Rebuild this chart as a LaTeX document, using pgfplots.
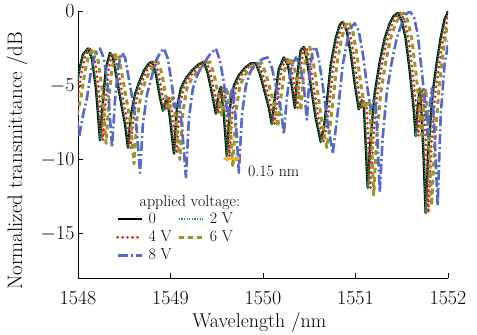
\RequirePackage{fix-cm}
\documentclass[border=0pt]{standalone}
\usepackage{fontspec}
\usepackage{pgfplots}
\usepackage{pgfplotstable}
\pgfplotsset{compat=1.18}
\usetikzlibrary{arrows.meta}
\definecolor{cgreen}{RGB}{40,150,60}
\definecolor{cred}{RGB}{225,30,35}
\definecolor{colive}{RGB}{150,150,45}
\definecolor{cblue}{RGB}{85,105,205}
\definecolor{corange}{RGB}{240,175,40}
\pgfplotstableread{
x0 x2 x4 x6 x8 y0 y6 y8
1547.816 1547.822 1547.846 1547.881 1547.946 -5.0 -5.0 -5.0
1547.849 1547.855 1547.879 1547.914 1547.979 -6.5 -6.5 -6.5
1547.881 1547.887 1547.911 1547.946 1548.011 -8.7 -8.7 -8.5
1547.924 1547.930 1547.954 1547.989 1548.054 -7.0 -7.0 -7.0
1547.968 1547.974 1547.998 1548.033 1548.098 -5.8 -5.8 -5.8
1548.011 1548.017 1548.041 1548.076 1548.141 -4.0 -4.0 -4.0
1548.054 1548.060 1548.084 1548.119 1548.184 -2.9 -2.9 -2.9
1548.108 1548.114 1548.138 1548.173 1548.238 -2.5 -2.5 -2.5
1548.151 1548.157 1548.181 1548.216 1548.281 -3.2 -3.2 -3.2
1548.194 1548.200 1548.224 1548.259 1548.324 -5.2 -5.2 -5.2
1548.238 1548.244 1548.268 1548.303 1548.368 -8.7 -8.9 -9.2
1548.270 1548.276 1548.300 1548.335 1548.400 -6.0 -6.0 -6.0
1548.302 1548.308 1548.332 1548.367 1548.432 -3.8 -3.8 -3.8
1548.346 1548.352 1548.376 1548.411 1548.476 -2.8 -2.8 -2.8
1548.378 1548.384 1548.408 1548.443 1548.508 -3.1 -3.1 -3.1
1548.421 1548.427 1548.451 1548.486 1548.551 -4.6 -4.6 -4.6
1548.475 1548.481 1548.505 1548.540 1548.605 -6.5 -6.5 -6.5
1548.508 1548.514 1548.538 1548.573 1548.638 -7.6 -7.8 -8.2
1548.540 1548.546 1548.570 1548.605 1548.670 -9.2 -10.3 -10.9
1548.572 1548.578 1548.602 1548.637 1548.702 -7.0 -7.3 -7.6
1548.616 1548.622 1548.646 1548.681 1548.746 -5.6 -5.6 -5.6
1548.659 1548.665 1548.689 1548.724 1548.789 -4.8 -4.8 -4.6
1548.713 1548.719 1548.743 1548.778 1548.843 -4.0 -4.0 -3.3
1548.767 1548.773 1548.797 1548.832 1548.897 -3.5 -3.5 -2.7
1548.799 1548.805 1548.829 1548.864 1548.929 -3.4 -3.4 -2.5
1548.842 1548.848 1548.872 1548.907 1548.972 -4.2 -4.2 -3.2
1548.886 1548.892 1548.916 1548.951 1549.016 -5.8 -5.8 -5.0
1548.918 1548.924 1548.948 1548.983 1549.048 -6.7 -6.7 -6.5
1548.961 1548.967 1548.991 1549.026 1549.091 -5.8 -5.8 -5.8
1548.994 1549.000 1549.024 1549.059 1549.124 -7.2 -7.4 -7.8
1549.037 1549.043 1549.067 1549.102 1549.167 -9.6 -10.0 -11.2
1549.069 1549.075 1549.099 1549.134 1549.199 -6.5 -6.8 -7.2
1549.112 1549.118 1549.142 1549.177 1549.242 -5.2 -5.2 -5.2
1549.166 1549.172 1549.196 1549.231 1549.296 -4.5 -4.5 -4.2
1549.231 1549.237 1549.261 1549.296 1549.361 -4.0 -4.0 -3.5
1549.296 1549.302 1549.326 1549.361 1549.426 -3.6 -3.6 -2.9
1549.361 1549.367 1549.391 1549.426 1549.491 -3.4 -3.4 -2.5
1549.404 1549.410 1549.434 1549.469 1549.534 -4.2 -4.2 -3.3
1549.447 1549.453 1549.477 1549.512 1549.577 -5.5 -5.5 -4.8
1549.490 1549.496 1549.520 1549.555 1549.620 -6.9 -7.0 -7.2
1549.523 1549.529 1549.553 1549.588 1549.653 -5.5 -5.5 -5.5
1549.544 1549.550 1549.574 1549.609 1549.674 -5.1 -5.1 -5.1
1549.577 1549.583 1549.607 1549.642 1549.707 -7.0 -7.2 -7.5
1549.609 1549.615 1549.639 1549.674 1549.739 -9.8 -10.5 -10.9
1549.642 1549.648 1549.672 1549.707 1549.772 -6.5 -6.8 -7.0
1549.685 1549.691 1549.715 1549.750 1549.815 -5.0 -5.0 -5.0
1549.739 1549.745 1549.769 1549.804 1549.869 -4.3 -4.3 -4.0
1549.804 1549.810 1549.834 1549.869 1549.934 -3.8 -3.8 -3.5
1549.868 1549.874 1549.898 1549.933 1549.998 -3.5 -3.5 -3.2
1549.922 1549.928 1549.952 1549.987 1550.052 -3.5 -3.5 -3.1
1549.966 1549.972 1549.996 1550.031 1550.096 -4.2 -4.2 -3.8
1550.009 1550.015 1550.039 1550.074 1550.139 -5.2 -5.2 -5.0
1550.063 1550.069 1550.093 1550.128 1550.193 -6.5 -6.5 -6.6
1550.095 1550.101 1550.125 1550.160 1550.225 -7.6 -7.8 -8.3
1550.128 1550.134 1550.158 1550.193 1550.258 -5.8 -5.8 -5.8
1550.171 1550.177 1550.201 1550.236 1550.301 -3.9 -3.9 -3.9
1550.225 1550.231 1550.255 1550.290 1550.355 -3.1 -3.1 -3.1
1550.268 1550.274 1550.298 1550.333 1550.398 -3.6 -3.6 -3.6
1550.311 1550.317 1550.341 1550.376 1550.441 -5.0 -5.0 -5.0
1550.344 1550.350 1550.374 1550.409 1550.474 -6.5 -6.7 -7.3
1550.376 1550.382 1550.406 1550.441 1550.506 -4.0 -4.0 -4.0
1550.408 1550.414 1550.438 1550.473 1550.538 -2.6 -2.6 -2.6
1550.441 1550.447 1550.471 1550.506 1550.571 -2.4 -2.4 -2.4
1550.473 1550.479 1550.503 1550.538 1550.603 -3.2 -3.2 -3.2
1550.516 1550.522 1550.546 1550.581 1550.646 -5.0 -5.0 -5.0
1550.570 1550.576 1550.600 1550.635 1550.700 -7.2 -7.4 -7.6
1550.624 1550.630 1550.654 1550.689 1550.754 -8.8 -9.2 -9.6
1550.657 1550.663 1550.687 1550.722 1550.787 -7.9 -7.9 -7.9
1550.689 1550.695 1550.719 1550.754 1550.819 -6.2 -6.2 -6.2
1550.732 1550.738 1550.762 1550.797 1550.862 -3.6 -3.6 -3.6
1550.786 1550.792 1550.816 1550.851 1550.916 -1.8 -1.8 -1.8
1550.830 1550.836 1550.860 1550.895 1550.960 -0.9 -0.9 -1.0
1550.862 1550.868 1550.892 1550.927 1550.992 -0.7 -0.7 -0.8
1550.905 1550.911 1550.935 1550.970 1551.035 -1.3 -1.3 -1.3
1550.948 1550.954 1550.978 1551.013 1551.078 -2.8 -2.8 -2.8
1550.992 1550.998 1551.022 1551.057 1551.122 -4.9 -4.9 -4.9
1551.035 1551.041 1551.065 1551.100 1551.165 -6.6 -6.6 -6.6
1551.067 1551.073 1551.097 1551.132 1551.197 -6.0 -6.0 -6.0
1551.089 1551.095 1551.119 1551.154 1551.219 -6.2 -6.2 -6.2
1551.110 1551.116 1551.140 1551.175 1551.240 -9.0 -9.0 -9.0
1551.132 1551.138 1551.162 1551.197 1551.262 -11.9 -12.4 -12.2
1551.164 1551.170 1551.194 1551.229 1551.294 -8.5 -8.5 -8.5
1551.208 1551.214 1551.238 1551.273 1551.338 -5.5 -5.5 -5.5
1551.262 1551.268 1551.292 1551.327 1551.392 -3.4 -3.4 -3.4
1551.316 1551.322 1551.346 1551.381 1551.446 -1.8 -1.8 -1.8
1551.370 1551.376 1551.400 1551.435 1551.500 -0.8 -0.8 -0.8
1551.413 1551.419 1551.443 1551.478 1551.543 -0.3 -0.3 -0.2
1551.456 1551.462 1551.486 1551.521 1551.586 -0.1 -0.1 0.0
1551.499 1551.505 1551.529 1551.564 1551.629 -0.6 -0.6 -0.3
1551.542 1551.548 1551.572 1551.607 1551.672 -1.8 -1.8 -1.5
1551.586 1551.592 1551.616 1551.651 1551.716 -4.0 -4.0 -4.0
1551.629 1551.635 1551.659 1551.694 1551.759 -6.6 -6.6 -6.6
1551.650 1551.656 1551.680 1551.715 1551.780 -8.4 -8.4 -8.4
1551.672 1551.678 1551.702 1551.737 1551.802 -6.5 -6.5 -6.5
1551.694 1551.700 1551.724 1551.759 1551.824 -5.2 -5.2 -5.2
1551.715 1551.721 1551.745 1551.780 1551.845 -7.0 -7.0 -7.0
1551.737 1551.743 1551.767 1551.802 1551.867 -10.0 -10.0 -10.0
1551.758 1551.764 1551.788 1551.823 1551.888 -13.6 -13.1 -13.1
1551.791 1551.797 1551.821 1551.856 1551.921 -9.0 -9.0 -7.0
1551.834 1551.840 1551.864 1551.899 1551.964 -5.5 -5.5 -3.5
1551.877 1551.883 1551.907 1551.942 1552.007 -3.5 -3.0 -2.0
1551.920 1551.926 1551.950 1551.985 1552.050 -1.8 -1.2 -1.0
1551.964 1551.970 1551.994 1552.029 1552.094 -0.5 -0.5 -0.5
1551.996 1552.002 1552.026 1552.061 1552.126 -0.05 -0.05 -0.05
1552.028 1552.034 1552.058 1552.093 1552.158 0.0 0.0 0.0
1552.061 1552.067 1552.091 1552.126 1552.191 -0.3 -0.3 -0.3
}\spectra
\begin{document}
\begin{tikzpicture}
\useasboundingbox (-78bp,-57bp) rectangle (399bp,278bp);
\begin{axis}[
  at={(0,0)}, anchor=south west,
  scale only axis, width=370bp, height=266.5bp,
  xmin=1548, xmax=1552, ymin=-18, ymax=0,
  xtick={1548,1549,1550,1551,1552},
  ytick={-15,-10,-5,0},
  axis x line*=bottom, axis y line*=left,
  tick pos=left, tick align=inside,
  major tick length=5bp,
  axis line style={line width=0.9pt},
  every tick/.style={black, line width=0.9pt},
  x tick label style={font=\fontsize{20}{24}\selectfont, yshift=-10bp,
    /pgf/number format/1000 sep={}},
  y tick label style={font=\fontsize{20}{24}\selectfont},
  xlabel={Wavelength /nm},
  ylabel={Normalized transmittance /dB},
  every axis x label/.style={at={(axis description cs:0.49,-0.1876)}, anchor=base,
    font=\fontsize{20}{24}\selectfont},
  every axis y label/.style={at={(axis description cs:-0.165,0.44)}, rotate=90, anchor=center,
    font=\fontsize{21}{24}\selectfont},
  legend columns=2,
  legend cell align=left,
  legend image code/.code={\draw[#1] (0bp,0bp) -- (24bp,0bp);},
  legend style={draw=none, fill=none, at={(axis cs:1548.41,-13.45)}, anchor=north west,
    font=\fontsize{16}{19}\selectfont, column sep=4bp, row sep=1bp,
    inner sep=0pt,
    nodes={inner sep=1.5bp, text height=11bp, text depth=3bp}},
  line join=round,
]
\addplot[black, line width=2.3pt] table[x=x0, y=y0] {\spectra};
\addlegendentry{0}
\addplot[cgreen, line width=2.1pt, dash pattern=on 1.3pt off 1.3pt] table[x=x2, y=y0] {\spectra};
\addlegendentry{2 V}
\addplot[cred, line width=3pt, line cap=round, dash pattern=on 0pt off 5pt] table[x=x4, y=y0] {\spectra};
\addlegendentry{4 V}
\addplot[colive, line width=3pt, dash pattern=on 5pt off 4pt] table[x=x6, y=y6] {\spectra};
\addlegendentry{6 V}
\addplot[cblue, line width=2.6pt, dash pattern=on 10pt off 3pt on 2pt off 3pt] table[x=x8, y=y8] {\spectra};
\addlegendentry{8 V}
\draw[corange, line width=2.2pt, {Latex[length=6bp,width=7bp]}-{Latex[length=6bp,width=7bp]}]
  (axis cs:1549.56,-9.95) -- (axis cs:1549.76,-9.95);
\node[anchor=west, font=\fontsize{16}{19}\selectfont] at (axis cs:1549.80,-10.8) {0.15 nm};
\node[anchor=base, font=\fontsize{16}{19}\selectfont] at (axis cs:1549.21,-13.14) {applied voltage:};
\end{axis}
\end{tikzpicture}
\end{document}
